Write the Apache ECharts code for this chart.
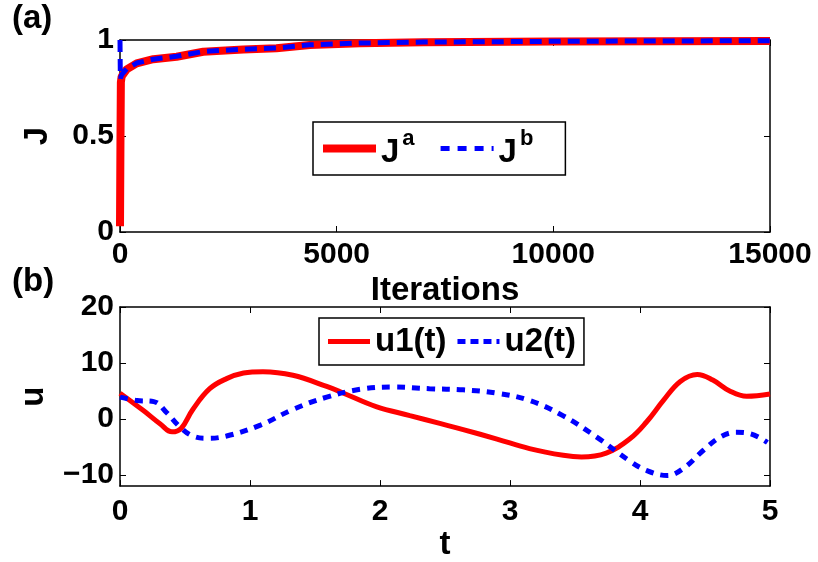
<!DOCTYPE html>
<html>
<head>
<meta charset="utf-8">
<script src="https://cdn.jsdelivr.net/npm/echarts@6/dist/echarts.min.js"></script>
<style>html,body{margin:0;padding:0;background:#fff;}#c{width:818px;height:562px;}</style>
</head>
<body>
<div id="c"></div>
<script>
// Panel (a): J vs iterations
const iterA = [0, 10, 20, 38, 154, 384, 768, 1306, 1920, 2842, 3610, 4378, 5530, 7000, 10000, 12500, 15000];
const jA    = [0.03, 0.45, 0.78, 0.81, 0.847, 0.878, 0.90, 0.913, 0.939, 0.951, 0.957, 0.974, 0.983, 0.988, 0.992, 0.994, 0.995];
const iterB = [0, 8, 40, 154, 384, 768, 1306, 1920, 2842, 3610, 4378, 5530, 7000, 10000, 12500, 15000];
const jB    = [1.0, 0.80, 0.82, 0.85, 0.88, 0.90, 0.915, 0.94, 0.952, 0.958, 0.975, 0.984, 0.989, 0.993, 0.995, 0.996];
const iterTicks = [0, 5000, 10000, 15000];
const jTicks = [0, 0.5, 1];

// Panel (b): controls u1(t), u2(t)
const tU1 = [0, 0.18, 0.31, 0.40, 0.47, 0.56, 0.69, 0.82, 0.95, 1.10, 1.33, 1.59, 1.72, 1.97, 2.23, 2.46, 2.64, 2.90, 3.15, 3.41, 3.55, 3.74, 3.92, 4.05, 4.18, 4.31, 4.44, 4.56, 4.69, 4.82, 5.0];
const u1  = [4.6, 1.5, -0.9, -2.3, -1.7, 1.7, 5.4, 7.2, 8.2, 8.45, 7.8, 5.8, 4.6, 2.2, 0.6, -0.8, -1.9, -3.6, -5.3, -6.5, -6.8, -6.1, -3.6, -0.55, 3.3, 6.7, 7.95, 6.95, 5.0, 4.05, 4.45];
const tU2 = [0, 0.13, 0.26, 0.36, 0.46, 0.56, 0.67, 0.82, 1.08, 1.33, 1.59, 1.85, 2.10, 2.38, 2.64, 2.90, 3.15, 3.41, 3.67, 3.92, 4.05, 4.21, 4.33, 4.49, 4.62, 4.74, 4.85, 4.98];
const u2  = [3.9, 3.3, 3.1, 1.1, -1.4, -3.05, -3.45, -3.05, -1.1, 1.7, 3.9, 5.3, 5.7, 5.4, 5.2, 4.6, 3.3, 0.55, -3.3, -7.5, -9.2, -10.1, -8.9, -5.55, -3.2, -2.4, -2.65, -4.2];
const uTicks = [-10, 0, 10, 20];
const tTicks = [0, 1, 2, 3, 4, 5];

const FONT = '"Liberation Sans", Arial, sans-serif';
const FS = 30;   // tick labels
const NFS = 33;  // axis names, legend, panel tags
const lbl = {color: '#000', fontFamily: FONT, fontWeight: 'bold', fontSize: FS};
const nlbl = {color: '#000', fontFamily: FONT, fontWeight: 'bold', fontSize: NFS};
const pair = (xs, ys) => xs.map((x, i) => [x, ys[i]]);
const fmtMinus = v => String(v).replace('-', '\u2212');

function xAx(gi, min, max, interval, name, nameGap, labelMargin) {
  return [{
    type: 'value', gridIndex: gi, min, max, interval, position: 'bottom',
    name, nameLocation: 'middle', nameGap,
    nameTextStyle: Object.assign({}, nlbl),
    axisLine: {show: true, onZero: false, lineStyle: {color: '#000', width: 1.5}},
    axisTick: {show: true, inside: true, length: 6, lineStyle: {color: '#000', width: 1}},
    axisLabel: Object.assign({margin: labelMargin, formatter: fmtMinus}, lbl),
    splitLine: {show: false}
  }, {
    type: 'value', gridIndex: gi, min, max, interval, position: 'top',
    axisLine: {show: true, onZero: false, lineStyle: {color: '#000', width: 1.5}},
    axisTick: {show: true, inside: true, length: 6, lineStyle: {color: '#000', width: 1}},
    axisLabel: {show: false}, splitLine: {show: false}
  }];
}
function yAx(gi, min, max, ticks, name, nameGap) {
  const tickCfg = {show: true, inside: true, length: 6, lineStyle: {color: '#000', width: 1}, customValues: ticks};
  return [{
    type: 'value', gridIndex: gi, min, max, position: 'left',
    name, nameLocation: 'middle', nameGap, nameRotate: 90,
    nameTextStyle: Object.assign({}, nlbl),
    axisLine: {show: true, onZero: false, lineStyle: {color: '#000', width: 1.5}},
    axisTick: tickCfg,
    axisLabel: Object.assign({margin: 6, formatter: fmtMinus, customValues: ticks}, lbl),
    splitLine: {show: false}
  }, {
    type: 'value', gridIndex: gi, min, max, position: 'right',
    axisLine: {show: true, onZero: false, lineStyle: {color: '#000', width: 1.5}},
    axisTick: tickCfg,
    axisLabel: {show: false, customValues: ticks}, splitLine: {show: false}
  }];
}

const xs = [].concat(
  xAx(0, 0, 15000, 5000, 'Iterations', 42, 8),
  xAx(1, 0, 5, 1, 't', 26, 11)
);
const ys = [].concat(
  yAx(0, 0, 1, jTicks, 'J', 66),
  yAx(1, -12, 20, uTicks, 'u', 70)
);

// legend icons (solid bar / dashed bar), drawn at exact item size
const iconA1 = 'path://M0,0H53V8H0Z';
const iconA2 = 'path://M0,1.5H9V6.5H0Z M17,1.5H26V6.5H17Z M34,1.5H43V6.5H34Z M51,1.5H53V6.5H51Z M0,0H0.01V8H0Z';
const iconB1 = 'path://M0,0H42V5H0Z';
const iconB2 = 'path://M0,0H8V5H0Z M13,0H21V5H13Z M26,0H34V5H26Z M39,0H42V5H39Z';

const chart = echarts.init(document.getElementById('c'), null, {renderer: 'canvas'});
chart.setOption({
  backgroundColor: '#fff',
  animation: false,
  grid: [
    {left: 120, top: 40, width: 650, height: 192, show: false},
    {left: 120, top: 307, width: 650, height: 191, show: false}
  ],
  xAxis: xs,
  yAxis: ys,
  legend: [{
    data: [{name: 'Ja', icon: iconA1, itemStyle: {color: '#ff0000'}}, {name: 'Jb', icon: iconA2, itemStyle: {color: '#0000ff'}}],
    left: 313, top: 122, orient: 'horizontal',
    padding: [6, 32, 6, 10], itemGap: 26, itemWidth: 53, itemHeight: 8,
    borderColor: '#000', borderWidth: 1.5, backgroundColor: '#fff',
    formatter: n => n === 'Ja' ? '{m|J}{s|a}' : '{m|J}{s|b}',
    textStyle: Object.assign({}, nlbl, {rich: {
      m: {fontFamily: FONT, fontWeight: 'bold', fontSize: NFS, color: '#000', padding: [8, 0, 0, 0]},
      s: {fontFamily: FONT, fontWeight: 'bold', fontSize: 22, color: '#000', verticalAlign: 'top', padding: [0, 0, 0, 3]}
    }})
  }, {
    data: [{name: 'u1(t)', icon: iconB1, itemStyle: {color: '#ff0000'}}, {name: 'u2(t)', icon: iconB2, itemStyle: {color: '#0000ff'}}],
    left: 319, top: 318, orient: 'horizontal',
    padding: [7, 8, 7, 9], itemGap: 11, itemWidth: 42, itemHeight: 5,
    borderColor: '#000', borderWidth: 1.5, backgroundColor: '#fff',
    textStyle: Object.assign({}, nlbl)
  }],
  graphic: [
    {type: 'text', left: 12, top: 2, style: {text: '(a)', fill: '#000', font: 'bold 33px "Liberation Sans"'}},
    {type: 'text', left: 12, top: 265, style: {text: '(b)', fill: '#000', font: 'bold 33px "Liberation Sans"'}}
  ],
  series: [
    {name: 'Ja', type: 'line', xAxisIndex: 0, yAxisIndex: 0, data: pair(iterA, jA), showSymbol: false, symbol: 'none', smooth: false,
     lineStyle: {color: '#ff0000', width: 8}, itemStyle: {color: '#ff0000'}},
    {name: 'Jb', type: 'line', xAxisIndex: 0, yAxisIndex: 0, data: pair(iterB, jB), showSymbol: false, symbol: 'none', smooth: false,
     lineStyle: {color: '#0000ff', width: 5, type: [12, 7]}, itemStyle: {color: '#0000ff'}},
    {name: 'u1(t)', type: 'line', xAxisIndex: 2, yAxisIndex: 2, data: pair(tU1, u1), showSymbol: false, symbol: 'none', smooth: 0.4,
     lineStyle: {color: '#ff0000', width: 5}, itemStyle: {color: '#ff0000'}},
    {name: 'u2(t)', type: 'line', xAxisIndex: 2, yAxisIndex: 2, data: pair(tU2, u2), showSymbol: false, symbol: 'none', smooth: 0.4,
     lineStyle: {color: '#0000ff', width: 5, type: [8, 7]}, itemStyle: {color: '#0000ff'}}
  ]
});
</script>
</body>
</html>
